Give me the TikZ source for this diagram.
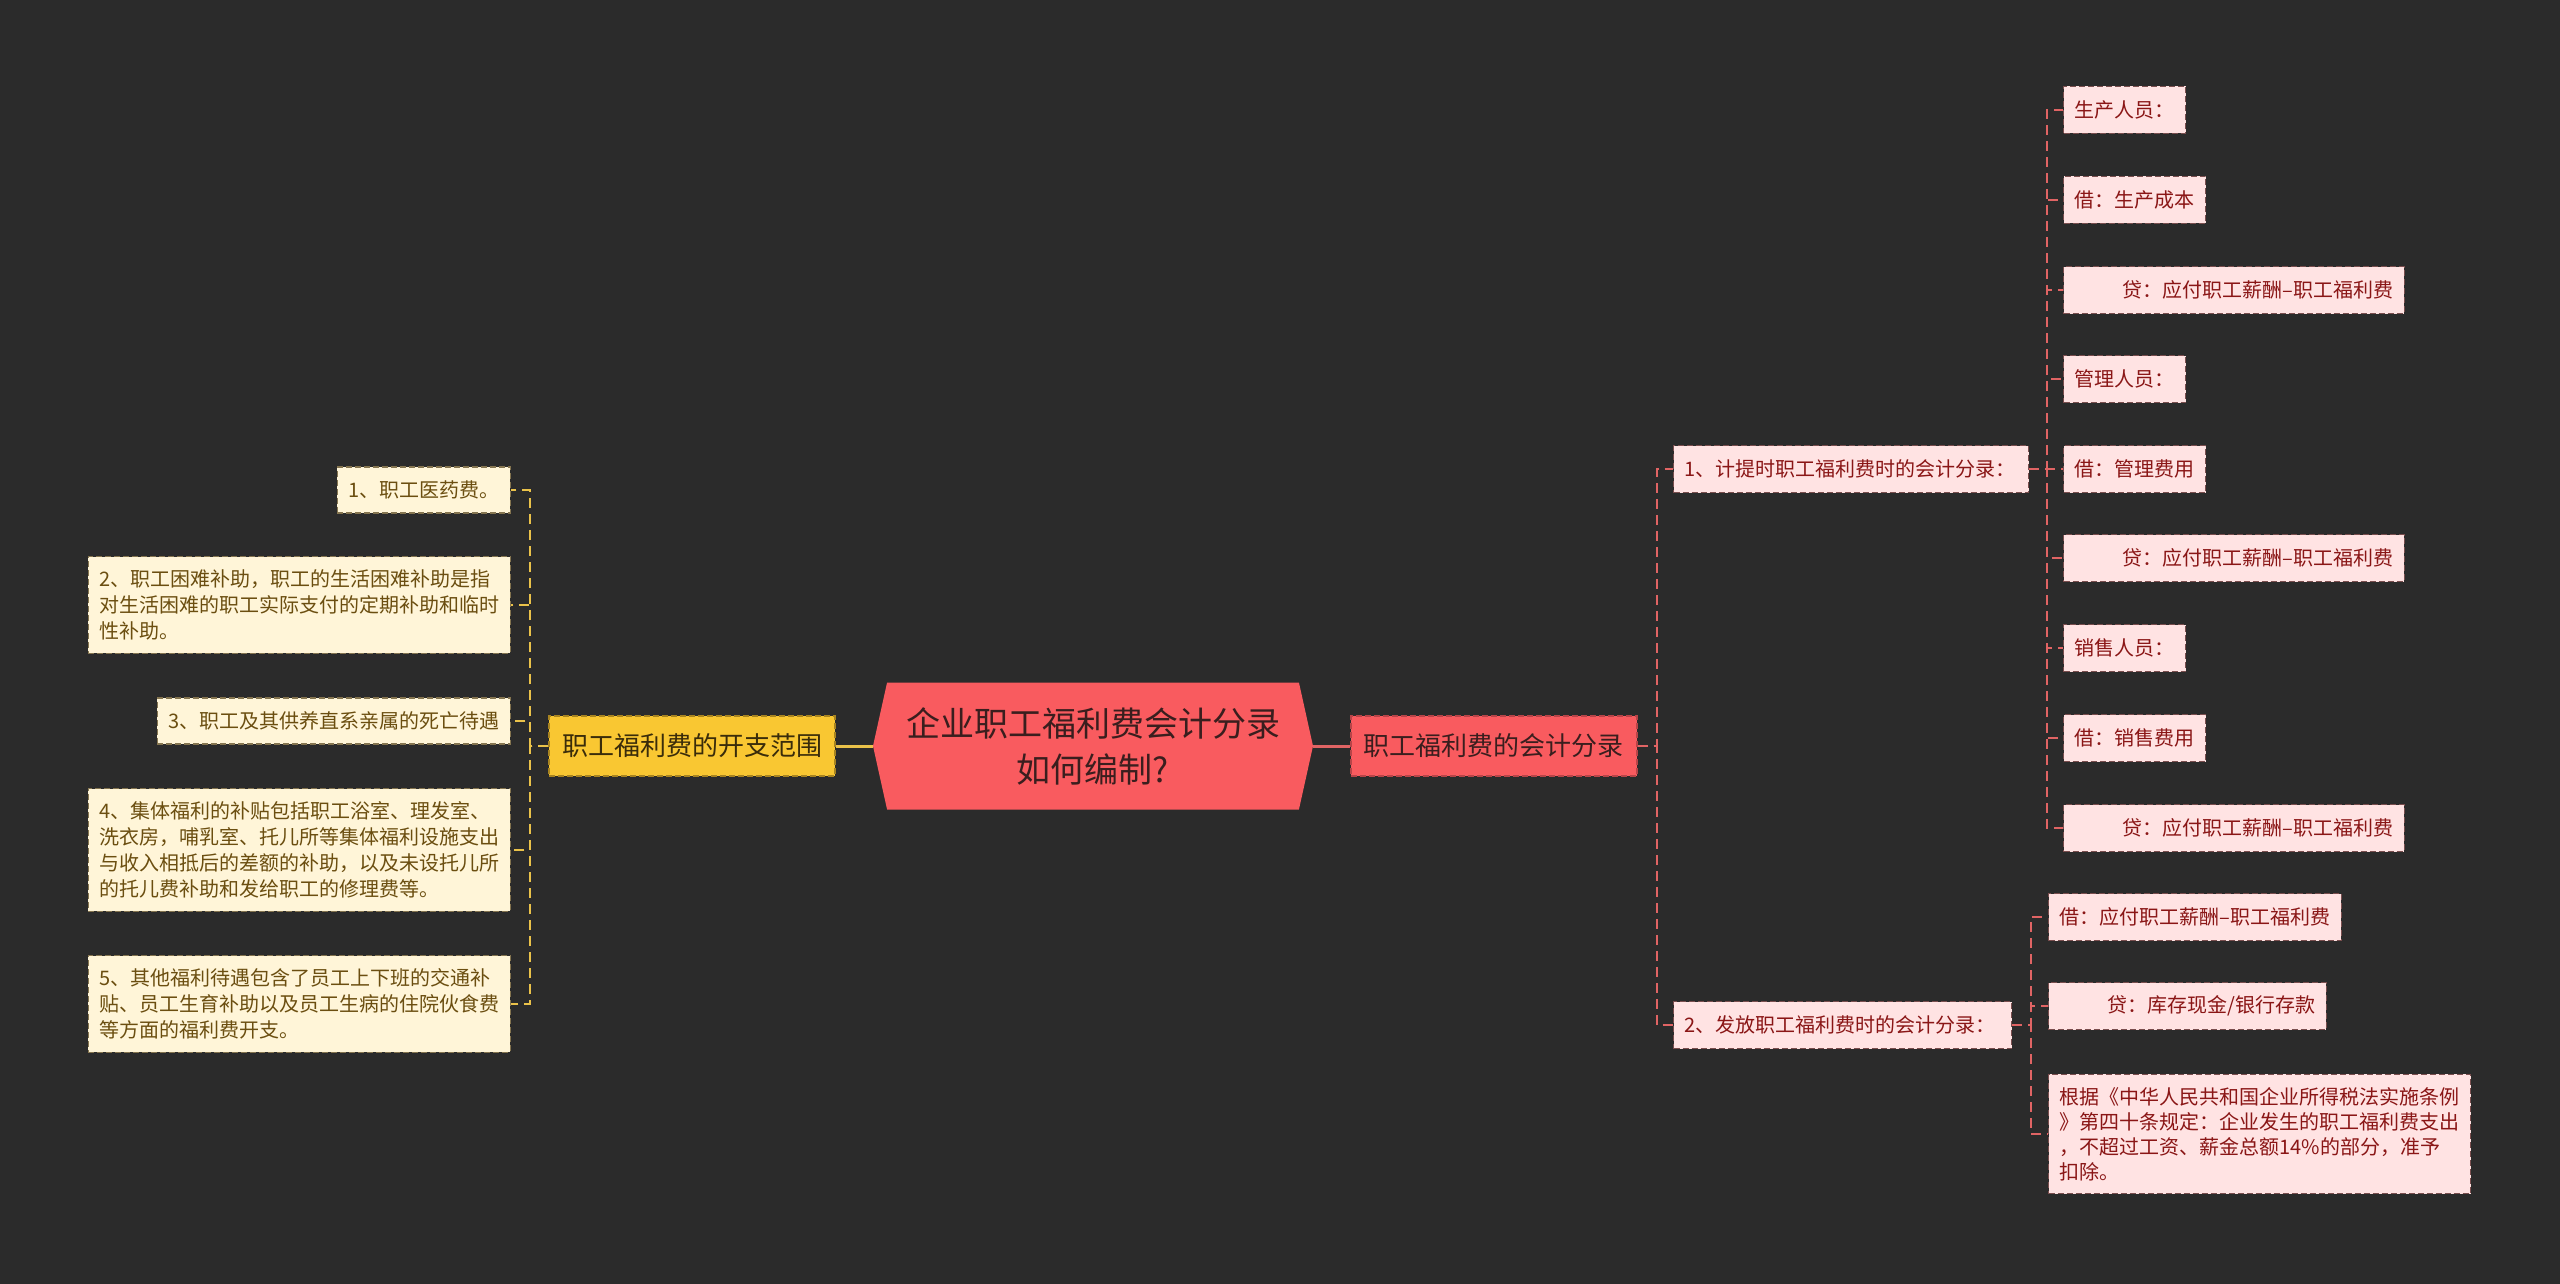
\documentclass[tikz,border=0pt]{standalone}
\usepackage{fontspec}
\setmainfont{Noto Sans CJK SC}
\usepackage{xcolor}
\usepackage{tikz}
\usetikzlibrary{positioning,shapes.symbols}

\definecolor{bgdark}{HTML}{2B2B2B}
\definecolor{rootred}{HTML}{F95B5F}
\definecolor{rootink}{HTML}{3A1E1E}
\definecolor{redline}{HTML}{E06464}
\definecolor{rededge}{HTML}{B84448}
\definecolor{pinkfill}{HTML}{FFE3E3}
\definecolor{pinkink}{HTML}{8A1616}
\definecolor{pinkedge}{HTML}{7A4E4E}
\definecolor{goldfill}{HTML}{F9C732}
\definecolor{goldink}{HTML}{3A2C0A}
\definecolor{goldedge}{HTML}{A88420}
\definecolor{goldline}{HTML}{EAC24A}
\definecolor{creamfill}{HTML}{FFF5D8}
\definecolor{creamink}{HTML}{6B4E10}
\definecolor{creamedge}{HTML}{857550}

\begin{document}
\begin{tikzpicture}[
    x=1pt, y=-1pt,
    every node/.style={font=\fontsize{20}{26}\selectfont},
    root/.style={shape=signal,signal to=west and east,signal pointer angle=155,
                 fill=rootred,text=rootink,minimum width=440pt,minimum height=127pt,
                 inner sep=0pt,align=center,font=\fontsize{34}{46}\selectfont},
    topic/.style={draw,dash pattern=on 6pt off 3pt,line width=1.5pt,minimum height=60pt,
                  inner xsep=13pt,font=\fontsize{26}{32}\selectfont},
    leafr/.style={draw=pinkedge,dash pattern=on 6pt off 3pt,line width=1.2pt,fill=pinkfill,
                  text=pinkink,minimum height=47pt,inner xsep=11pt,inner ysep=13pt,align=left},
    leafy/.style={draw=creamedge,dash pattern=on 6pt off 3pt,line width=1.2pt,fill=creamfill,
                  text=creamink,minimum height=46pt,inner xsep=11pt,inner ysep=13pt,align=left},
    rline/.style={redline,line width=2pt,dash pattern=on 10pt off 6pt},
    yline/.style={goldline,line width=2pt,dash pattern=on 10pt off 6pt},
    rmain/.style={redline,line width=3pt},
    ymain/.style={goldline,line width=3pt}
]

% Background and page size
\fill[bgdark] (0,0) rectangle (2560,1284);
\useasboundingbox (0,0) rectangle (2560,1284);

% Root topic
\node[root] (ROOT) at (1093,746) {企业职工福利费会计分录\\如何编制?};

% Main branches
\node[topic,fill=rootred,draw=rededge,text=rootink,right=37pt of ROOT] (ACC) {职工福利费的会计分录};
\node[topic,fill=goldfill,draw=goldedge,text=goldink,left=37pt of ROOT] (SCOPE) {职工福利费的开支范围};
\draw[rmain] (ROOT.east) -- (ACC.west);
\draw[ymain] (ROOT.west) -- (SCOPE.east);

% Left side: scope items
\node[leafy,anchor=east] (SC1) at (511,490) {1、职工医药费。};
\node[leafy,anchor=east] (SC2) at (511,605)
    {2、职工困难补助，职工的生活困难补助是指\\对生活困难的职工实际支付的定期补助和临时\\性补助。};
\node[leafy,anchor=east] (SC3) at (511,721) {3、职工及其供养直系亲属的死亡待遇};
\node[leafy,anchor=east] (SC4) at (511,850)
    {4、集体福利的补贴包括职工浴室、理发室、\\洗衣房，哺乳室、托儿所等集体福利设施支出\\与收入相抵后的差额的补助，以及未设托儿所\\的托儿费补助和发给职工的修理费等。};
\node[leafy,anchor=east] (SC5) at (511,1004)
    {5、其他福利待遇包含了员工上下班的交通补\\贴、员工生育补助以及员工生病的住院伙食费\\等方面的福利费开支。};
\draw[yline] (SCOPE.west) -- ++(-18,0) |- (SC1.east);
\draw[yline] (SCOPE.west) -- ++(-18,0) |- (SC2.east);
\draw[yline] (SCOPE.west) -- ++(-18,0) |- (SC3.east);
\draw[yline] (SCOPE.west) -- ++(-18,0) |- (SC4.east);
\draw[yline] (SCOPE.west) -- ++(-18,0) |- (SC5.east);

% Right side: the two kinds of entries
\node[leafr,anchor=west,text width=333pt] (PROV) at (1673,469) {1、计提时职工福利费时的会计分录：};
\node[leafr,anchor=west,text width=316pt] (PAY) at (1673,1025) {2、发放职工福利费时的会计分录：};
\draw[rline] (ACC.east) -- ++(19,0) |- (PROV.west);
\draw[rline] (ACC.east) -- ++(19,0) |- (PAY.west);

% Entries when provided
\node[leafr,anchor=west] (PV1) at (2063,110) {生产人员：};
\node[leafr,anchor=west] (PV2) at (2063,200) {借：生产成本};
\node[leafr,anchor=west] (PV3) at (2063,290) {\hspace*{48pt}贷：应付职工薪酬–职工福利费};
\node[leafr,anchor=west] (PV4) at (2063,379) {管理人员：};
\node[leafr,anchor=west] (PV5) at (2063,469) {借：管理费用};
\node[leafr,anchor=west] (PV6) at (2063,558) {\hspace*{48pt}贷：应付职工薪酬–职工福利费};
\node[leafr,anchor=west] (PV7) at (2063,648) {销售人员：};
\node[leafr,anchor=west] (PV8) at (2063,738) {借：销售费用};
\node[leafr,anchor=west] (PV9) at (2063,828) {\hspace*{48pt}贷：应付职工薪酬–职工福利费};
\draw[rline] (PROV.east) -- ++(18,0) |- (PV1.west);
\draw[rline] (PROV.east) -- ++(18,0) |- (PV2.west);
\draw[rline] (PROV.east) -- ++(18,0) |- (PV3.west);
\draw[rline] (PROV.east) -- ++(18,0) |- (PV4.west);
\draw[rline] (PROV.east) -- ++(18,0) |- (PV5.west);
\draw[rline] (PROV.east) -- ++(18,0) |- (PV6.west);
\draw[rline] (PROV.east) -- ++(18,0) |- (PV7.west);
\draw[rline] (PROV.east) -- ++(18,0) |- (PV8.west);
\draw[rline] (PROV.east) -- ++(18,0) |- (PV9.west);

% Entries when paid
\node[leafr,anchor=west] (PY1) at (2048,917) {借：应付职工薪酬–职工福利费};
\node[leafr,anchor=west] (PY2) at (2048,1006) {\hspace*{48pt}贷：库存现金/银行存款};
\node[leafr,anchor=west,font=\fontsize{20}{25}\selectfont] (PY3) at (2048,1134)
    {根据《中华人民共和国企业所得税法实施条例\\》第四十条规定：企业发生的职工福利费支出\\，不超过工资、薪金总额14\%的部分，准予\\扣除。};
\draw[rline] (PAY.east) -- ++(19,0) |- (PY1.west);
\draw[rline] (PAY.east) -- ++(19,0) |- (PY2.west);
\draw[rline] (PAY.east) -- ++(19,0) |- (PY3.west);

\end{tikzpicture}
\end{document}
